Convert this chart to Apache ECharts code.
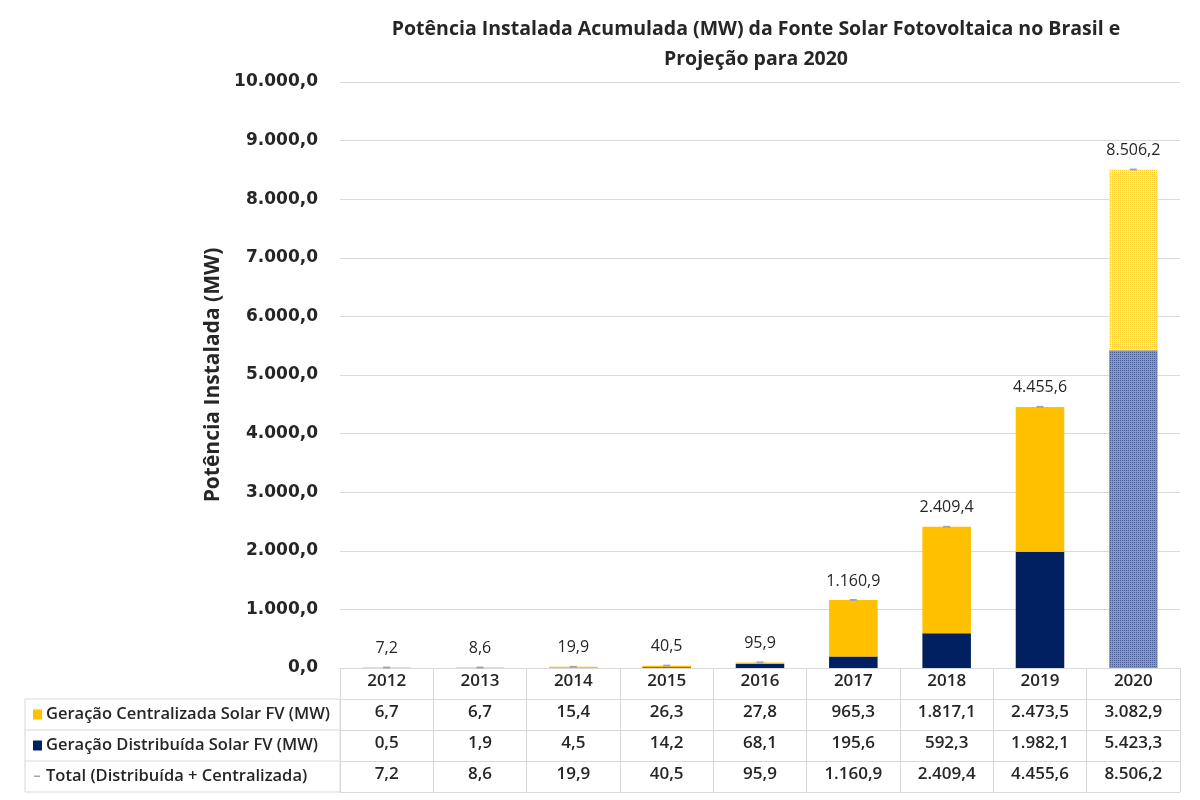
<!DOCTYPE html>
<html><head><meta charset="utf-8">
<script src="https://cdn.jsdelivr.net/npm/echarts@6/dist/echarts.min.js"></script>
<style>html,body{margin:0;padding:0;background:#fff}#c{width:1200px;height:800px}</style>
</head><body><div id="c"></div>
<script>
const years = ['2012','2013','2014','2015','2016','2017','2018','2019','2020'];
const centralizada = [6.7, 6.7, 15.4, 26.3, 27.8, 965.3, 1817.1, 2473.5, 3082.9];
const distribuida = [0.5, 1.9, 4.5, 14.2, 68.1, 195.6, 592.3, 1982.1, 5423.3];
const total = [7.2, 8.6, 19.9, 40.5, 95.9, 1160.9, 2409.4, 4455.6, 8506.2];
const rowNames = ['Geração Centralizada Solar FV (MW)', 'Geração Distribuída Solar FV (MW)', 'Total (Distribuída + Centralizada)'];
const projectedYear = '2020';

function fmt(v){
  const s = Math.abs(v).toFixed(1);
  let [i, d] = s.split('.');
  i = i.replace(/\B(?=(\d{3})+(?!\d))/g, '.');
  return (v < 0 ? '-' : '') + i + ',' + d;
}

const NAVY = '#002060', YELLOW = '#FFC000', GRID = '#d9d9d9', TXT = '#262626';
const G = {left: 340, right: 20, top: 82, bottom: 132};
const ROW = 31;
const FONT = '"Open Sans", Lato, sans-serif';

function barData(arr, lightColor, dotColor){
  return arr.map((v, i) => years[i] === projectedYear ? {
    value: v,
    itemStyle: {color: lightColor, decal: {symbol: 'rect', symbolSize: 1, color: dotColor, dashArrayX: [1, 1], dashArrayY: [1, 1]}}
  } : v);
}

function rowAxis(arr, idx, showLabel){
  return {
    type: 'category', data: showLabel ? arr.map(fmt) : years, position: 'bottom', offset: ROW * idx,
    axisLine: {show: true, lineStyle: {color: GRID}}, axisTick: {show: false},
    axisLabel: {show: showLabel, interval: 0, margin: 5, fontSize: 17, fontWeight: 600, color: TXT, fontFamily: FONT},
    splitLine: {show: false}
  };
}

const chart = echarts.init(document.getElementById('c'));
const tableLeft = 25;
const y0 = 800 - G.bottom;
const legendColors = [YELLOW, NAVY, null];

const graphic = [
  {type: 'rect', shape: {x: tableLeft, y: y0 + ROW, width: G.left - tableLeft, height: ROW * 3}, style: {fill: 'none', stroke: GRID, lineWidth: 1}},
  {type: 'line', shape: {x1: tableLeft, y1: y0 + ROW * 2, x2: G.left, y2: y0 + ROW * 2}, style: {stroke: GRID}},
  {type: 'line', shape: {x1: tableLeft, y1: y0 + ROW * 3, x2: G.left, y2: y0 + ROW * 3}, style: {stroke: GRID}}
];
rowNames.forEach((n, i) => {
  const cy = y0 + ROW * (i + 1) + ROW / 2;
  if (legendColors[i]) graphic.push({type: 'rect', shape: {x: 33, y: cy - 5, width: 9, height: 10}, style: {fill: legendColors[i]}});
  else graphic.push({type: 'rect', shape: {x: 34, y: cy - 1, width: 6, height: 1.5}, style: {fill: '#a5a5a5'}});
  graphic.push({type: 'text', x: 46, y: cy, style: {text: n, fontSize: 16.5, fontWeight: 600, fill: TXT, fontFamily: FONT, textVerticalAlign: 'middle', textAlign: 'left'}});
});

chart.setOption({
  animation: false,
  backgroundColor: '#fff',
  title: {
    text: 'Potência Instalada Acumulada (MW) da Fonte Solar Fotovoltaica no Brasil e\nProjeção para 2020',
    left: 751, top: 9, textAlign: 'center',
    textStyle: {fontSize: 19.5, fontWeight: 'bold', color: TXT, fontFamily: FONT, lineHeight: 30}
  },
  grid: G,
  xAxis: [
    {
      type: 'category', data: years, position: 'bottom',
      axisLine: {lineStyle: {color: GRID}},
      axisTick: {show: true, interval: 0, length: ROW * 4, lineStyle: {color: GRID}},
      axisLabel: {interval: 0, margin: 5, fontSize: 17, fontWeight: 600, color: TXT, fontFamily: FONT}
    },
    rowAxis(centralizada, 1, true),
    rowAxis(distribuida, 2, true),
    rowAxis(total, 3, true),
    rowAxis(total, 4, false)
  ],
  yAxis: {
    type: 'value', min: 0, max: 10000, interval: 1000,
    name: 'Potência Instalada (MW)', nameLocation: 'middle', nameGap: 114,
    nameTextStyle: {fontSize: 21, fontWeight: 'bold', color: TXT, fontFamily: FONT},
    axisLine: {show: false}, axisTick: {show: false},
    axisLabel: {formatter: v => fmt(v), margin: 22, fontSize: 17, fontWeight: 'bold', color: TXT, fontFamily: '"DejaVu Sans", sans-serif'},
    splitLine: {lineStyle: {color: GRID, width: 1}}
  },
  series: [
    {name: 'Geração Distribuída Solar FV (MW)', type: 'bar', stack: 'a', barWidth: '52%',
     itemStyle: {color: NAVY}, data: barData(distribuida, '#8796c4', 'rgba(0,32,96,0.45)')},
    {name: 'Geração Centralizada Solar FV (MW)', type: 'bar', stack: 'a', barWidth: '52%',
     itemStyle: {color: YELLOW}, data: barData(centralizada, '#fff0b0', 'rgba(255,192,0,0.75)')},
    {name: 'Total (Distribuída + Centralizada)', type: 'line', data: total,
     symbol: 'rect', symbolSize: [7, 2], showSymbol: true, itemStyle: {color: '#a5a5a5'},
     lineStyle: {width: 0, opacity: 0}, z: 5,
     label: {show: true, position: 'top', distance: 10, formatter: p => fmt(p.value), fontSize: 16, color: TXT, fontFamily: FONT}}
  ],
  graphic: graphic
});
</script></body></html>
